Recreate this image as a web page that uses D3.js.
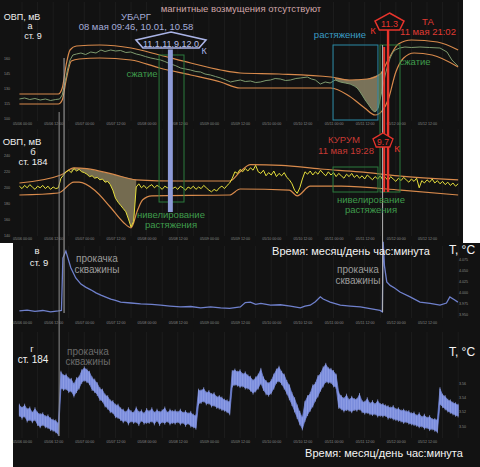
<!DOCTYPE html>
<html>
<head>
<meta charset="utf-8">
<script src="https://cdn.jsdelivr.net/npm/d3@7"></script>
<style>
body { margin: 0; background: #fff; }
svg { display: block; font-family: "Liberation Sans", Arial, sans-serif; }
</style>
</head>
<body>
<div id="chart"></div>
<script>
// time is in hours since 05/06 00:00
const tickHours = [0, 12, 24, 36, 48, 60, 72, 84, 96, 108, 120, 132, 144, 156];

// panel a: ОВП ст. 9 (green) with envelopes
const hoursGreenA = [-1, 1, 3, 5, 7, 9, 11, 13, 14.5, 15.5, 16.5, 17.5, 18.5, 19.6, 21, 22.7, 24.5, 26.5, 28.5, 30.4, 32, 34.2, 36, 38, 40, 41.9, 44, 45.7, 47.5, 49.6, 51.5, 53.4, 55, 57.2, 59, 61.1, 63, 64.9, 67, 68.8, 70.5, 72.6, 74.5, 76.5, 78.5, 80.3, 82, 84.1, 86, 88, 90, 91.8, 94, 95.7, 97.5, 99.5, 101.5, 103.4, 105.5, 107.2, 109.9, 111.5, 113, 114.9, 116.8, 118.7, 120.6, 122.6, 124.5, 126.4, 128, 129.1, 130, 131, 132.2, 133.3, 134.1, 134.9, 136, 137.2, 138.3, 139.1, 139.9, 140.8, 141.8, 142.7, 143.7, 145.5, 147.5, 150, 153.3, 157, 161, 163.7, 165.6, 167.9];
const greenA = [119, 120, 118.5, 119.5, 118, 119, 117.5, 118.5, 119, 123, 135, 148, 158, 163, 164, 165, 163.5, 166, 165, 168, 166.5, 168, 167, 167.5, 165.5, 166, 164, 163, 161.5, 160, 159, 158, 156.5, 154, 152.5, 150, 149, 148, 146.5, 146, 144, 143, 141.5, 140, 138, 136, 137, 138, 136.5, 137, 135.5, 136, 137.5, 138, 139.5, 139, 137.5, 138, 139.5, 140, 141, 139, 138, 134, 136, 135, 138, 136, 135, 134, 132, 130, 127, 123, 118, 114, 111, 108, 106, 110, 123, 133, 143, 152, 160, 165, 168, 170, 171, 170.5, 171, 170.5, 170, 166, 158, 152];
const hoursUpA = [-1, 14, 15.5, 17, 18.5, 21, 30, 42, 53, 65, 76.5, 84, 99, 119, 126, 133, 138, 141, 145, 150, 160, 168];
const upA = [124, 124, 130, 153, 168, 172, 173, 170, 163, 155, 148, 145, 144, 141, 138, 139, 144, 158, 174, 178, 176, 168];
const hoursLoA = [-1, 14, 15.5, 17, 19, 22, 30, 42, 53, 65, 76.5, 84, 119, 126, 132, 136, 139, 141, 144, 147, 151, 158, 168];
const loA = [114, 114, 118, 138, 157, 159, 160, 158, 150, 143, 136, 130, 130, 122, 110, 103, 108, 118, 146, 160, 165, 163, 151];
const ticksA = [100, 115, 130, 145, 160];

// panel b: ОВП ст. 184 (yellow), hourly from -1 to 168
const yellowB = [201,198,202,199,203,200,197,201,199,202, 198,201,197,200,198,199,211,215,219,221,
  218,223,220,222,219,218,216,213,214,211, 212,209,210,206,207,203,196,186,181,177,
  173,169,160,150,157,200,204,199,202,198, 201,203,199,202,200,197,201,199,202,198,
  200,197,201,199,196,200,198,201,197,200, 198,202,199,196,194,197,195,199,201,198,
  202,205,211,219,217,222,219,223,220,224, 221,227,219,217,221,214,218,215,220,213,
  217,214,218,212,209,204,196,192,199,210, 219,216,220,215,219,216,221,217,214,219,
  215,218,213,217,214,211,216,213,217,212, 215,211,214,210,215,212,209,213,210,214,
  209,212,208,213,210,207,211,208,212,209, 206,210,207,211,199,208,205,209,206,210,
  205,208,204,207,203,206,202,205,201,204];
const hoursUpB = [-1, 15, 20, 25, 35, 44, 60, 80, 84, 88, 100, 115, 130, 145, 168];
const upB = [205, 215, 224, 223, 216, 209, 207.5, 207.5, 219, 228, 227, 222.5, 219, 214, 209];
const hoursLoB = [-1, 14, 20, 22, 28, 34, 39, 42, 44.5, 46.5, 50, 80, 84, 103, 106, 111, 123, 146, 168];
const loB = [190, 192.5, 206, 206, 196, 175, 156, 149, 171, 184, 189, 190, 197.5, 196, 189, 201, 201, 196, 190];
const ticksB = [140, 160, 180, 200, 220, 240];

// panel в: T ст. 9
const hoursV = [-1, 2, 5, 8, 11, 14, 15.2, 15.75, 16.9, 17.7, 18.8, 20.7, 22.7, 24.5, 26.5, 28.5, 30.4, 32.5, 34.2, 36, 38, 42, 45.7, 50, 53.4, 57, 61.1, 65, 68.8, 72.6, 76.5, 80, 84.1, 86, 88, 90, 92, 95.7, 99.5, 103.4, 107.2, 109, 111, 113, 114.9, 116, 118.7, 122.6, 126.4, 130.3, 134.1, 137.9, 138.8, 139.1, 139.6, 140.5, 141.8, 143.5, 145.6, 149.5, 153.3, 157.2, 161, 163.5, 164.8, 166.7, 167.9];
const tempV = [3.957, 3.959, 3.956, 3.958, 3.955, 3.957, 3.958, 4.077, 4.093, 4.077, 4.055, 4.032, 4.018, 4.011, 4.005, 3.998, 3.993, 3.988, 3.984, 3.981, 3.977, 3.975, 3.973, 3.972, 3.970, 3.968, 3.966, 3.967, 3.964, 3.966, 3.964, 3.963, 3.966, 3.976, 3.977, 3.972, 3.974, 3.970, 3.971, 3.968, 3.964, 3.968, 3.970, 3.978, 3.989, 3.984, 3.977, 3.970, 3.968, 3.966, 3.962, 3.958, 3.955, 4.114, 4.060, 4.023, 4.015, 4.009, 4.000, 3.989, 3.977, 3.974, 3.970, 3.975, 3.989, 3.982, 3.977];
const ticksV = [3.950, 3.975, 4.000, 4.025, 4.050, 4.075];

// panel г: T ст. 184, hourly max / min from -1 to 168
const tempGHi = [3.529,3.525,3.529,3.523,3.525,3.518,3.524,3.518,3.516,3.517,
  3.513,3.514,3.510,3.508,3.507,3.503,3.575,3.570,3.571,3.566,
  3.565,3.558,3.566,3.568,3.577,3.581,3.578,3.575,3.567,3.564,
  3.559,3.552,3.550,3.543,3.541,3.535,3.534,3.529,3.529,3.524,
  3.522,3.519,3.524,3.520,3.518,3.525,3.519,3.521,3.517,3.523,
  3.520,3.524,3.518,3.522,3.519,3.521,3.525,3.518,3.522,3.520,
  3.521,3.519,3.522,3.518,3.520,3.517,3.519,3.515,3.514,3.550,
  3.549,3.552,3.546,3.548,3.544,3.545,3.540,3.541,3.539,3.536,
  3.535,3.533,3.576,3.578,3.575,3.577,3.572,3.574,3.570,3.568,
  3.563,3.567,3.571,3.579,3.567,3.562,3.559,3.563,3.571,3.578,
  3.582,3.575,3.571,3.562,3.556,3.545,3.538,3.528,3.519,3.511,
  3.533,3.541,3.545,3.556,3.559,3.569,3.573,3.581,3.586,3.580,
  3.579,3.576,3.571,3.546,3.541,3.538,3.543,3.536,3.540,3.537,
  3.537,3.544,3.534,3.533,3.538,3.531,3.534,3.530,3.535,3.530,
  3.530,3.528,3.527,3.525,3.527,3.523,3.524,3.521,3.522,3.520,
  3.520,3.517,3.518,3.514,3.517,3.512,3.515,3.511,3.513,3.509,
  3.509,3.508,3.552,3.543,3.541,3.536,3.535,3.532,3.531,3.529];
const tempGLo = [3.515,3.511,3.514,3.507,3.509,3.506,3.509,3.502,3.499,3.502,
  3.499,3.498,3.495,3.494,3.492,3.488,3.553,3.551,3.552,3.548,
  3.549,3.542,3.548,3.553,3.561,3.564,3.562,3.559,3.551,3.548,
  3.544,3.537,3.535,3.528,3.525,3.520,3.519,3.513,3.512,3.509,
  3.506,3.508,3.503,3.507,3.505,3.506,3.502,3.508,3.504,3.505,
  3.505,3.507,3.503,3.508,3.502,3.506,3.504,3.507,3.503,3.505,
  3.504,3.506,3.503,3.505,3.501,3.504,3.500,3.499,3.497,3.531,
  3.533,3.535,3.531,3.532,3.528,3.529,3.526,3.525,3.523,3.522,
  3.520,3.517,3.556,3.558,3.557,3.555,3.556,3.553,3.553,3.550,
  3.546,3.549,3.553,3.560,3.551,3.545,3.543,3.546,3.553,3.561,
  3.563,3.559,3.553,3.546,3.538,3.530,3.521,3.512,3.503,3.496,
  3.508,3.516,3.522,3.528,3.536,3.542,3.550,3.556,3.562,3.561,
  3.561,3.556,3.554,3.526,3.524,3.521,3.523,3.522,3.520,3.523,
  3.522,3.524,3.520,3.518,3.519,3.517,3.516,3.517,3.514,3.515,
  3.514,3.515,3.511,3.512,3.510,3.509,3.508,3.507,3.505,3.506,
  3.504,3.503,3.502,3.501,3.499,3.500,3.497,3.498,3.495,3.496,
  3.494,3.492,3.531,3.527,3.524,3.521,3.519,3.517,3.515,3.514];
const ticksG = [3.50, 3.52, 3.54, 3.56];

const hourly = d3.range(-1, 169);

const W = 480, H = 467;
const t0 = new Date(2020, 4, 6, 0, 0);
const hr = h => new Date(+t0 + h * 36e5);

const x = d3.scaleTime().domain([t0, hr(156)]).range([22, 427]);
const ya = d3.scaleLinear().domain([100, 160]).range([118, 58]);
const yb = d3.scaleLinear().domain([140, 240]).range([235, 155]);
const yv = d3.scaleLinear().domain([3.95, 4.075]).range([314, 259]);
const yg = d3.scaleLinear().domain([3.50, 3.56]).range([426, 383]);

const svg = d3.select('#chart').append('svg')
    .attr('width', W)
    .attr('height', H);

// dark panels
svg.append('rect').attr('x', 0).attr('y', 0).attr('width', 463).attr('height', 243).attr('fill', '#121212');
svg.append('rect').attr('x', 13).attr('y', 243).attr('width', 467).attr('height', 224).attr('fill', '#121212');

// faint vertical grid
const gridHours = d3.range(0, 169, 6);
[[2, 121], [129, 236], [246, 318], [332, 438]].forEach(([y0, y1]) => {
    svg.append('g').selectAll('line')
        .data(gridHours)
        .join('line')
            .attr('x1', d => x(hr(d))).attr('x2', d => x(hr(d)))
            .attr('y1', y0).attr('y2', y1)
            .attr('stroke', '#1f1f1f')
            .attr('stroke-width', 0.8);
});

// bottom time axes
const fmt = d3.timeFormat('%m/%d %H:%M');
[122.5, 237.5, 321.5, 440.5].forEach(yy => {
    const ax = svg.append('g')
        .attr('transform', `translate(0,${yy})`)
        .call(d3.axisBottom(x).tickValues(tickHours.map(hr)).tickFormat(fmt).tickSize(0).tickPadding(0));
    ax.select('.domain').remove();
    ax.selectAll('text').attr('font-size', 3.6).attr('fill', '#8a8a8a').attr('font-family', 'Liberation Sans, Arial');
});

// value axes
function valueAxis(axis, tx, vals, f) {
    const g = svg.append('g').attr('transform', `translate(${tx},0)`)
        .call(axis.tickValues(vals).tickFormat(f).tickSize(0).tickPadding(0));
    g.select('.domain').remove();
    g.selectAll('text').attr('font-size', 3.6).attr('fill', '#8a8a8a').attr('font-family', 'Liberation Sans, Arial');
}
valueAxis(d3.axisLeft(ya), 10, ticksA, d3.format('d'));
valueAxis(d3.axisLeft(yb), 10, ticksB, d3.format('d'));
valueAxis(d3.axisRight(yv), 459, ticksV, d3.format('.3f'));
valueAxis(d3.axisRight(yg), 459, ticksG, d3.format('.2f'));

function pairs(hs, vs) { return hs.map((h, i) => [h, vs[i]]); }
function lineOf(ys, curve) {
    return d3.line().x(d => x(hr(d[0]))).y(d => ys(d[1])).curve(curve || d3.curveLinear);
}

// --- panel a
const upAt = d3.scaleLinear().domain(hoursUpA).range(upA);
const gA = pairs(hoursGreenA, greenA);
svg.append('path')
    .datum(gA.filter(d => d[0] >= 119.5 && d[0] <= 139.6))
    .attr('fill', '#8c8466')
    .attr('fill-opacity', 0.85)
    .attr('d', d3.area().x(d => x(hr(d[0]))).y0(d => ya(d[1])).y1(d => ya(upAt(d[0]))).curve(d3.curveMonotoneX));
svg.append('path').datum(pairs(hoursUpA, upA))
    .attr('fill', 'none').attr('stroke', '#d88a4c').attr('stroke-width', 1.2)
    .attr('d', lineOf(ya, d3.curveMonotoneX));
svg.append('path').datum(pairs(hoursLoA, loA))
    .attr('fill', 'none').attr('stroke', '#d88a4c').attr('stroke-width', 1.2)
    .attr('d', lineOf(ya, d3.curveMonotoneX));
svg.append('path').datum(gA)
    .attr('fill', 'none').attr('stroke', '#7e9a6e').attr('stroke-width', 1)
    .attr('d', lineOf(ya));

// --- panel b
const upBAt = d3.scaleLinear().domain(hoursUpB).range(upB);
const yB = pairs(hourly, yellowB);
svg.append('path')
    .datum(yB.filter(d => d[0] >= 19 && d[0] <= 44))
    .attr('fill', '#867b5c')
    .attr('fill-opacity', 0.85)
    .attr('d', d3.area().x(d => x(hr(d[0]))).y0(d => yb(d[1])).y1(d => yb(upBAt(d[0]))));
svg.append('path').datum(pairs(hoursUpB, upB))
    .attr('fill', 'none').attr('stroke', '#d88a4c').attr('stroke-width', 1.2)
    .attr('d', lineOf(yb, d3.curveMonotoneX));
svg.append('path').datum(pairs(hoursLoB, loB))
    .attr('fill', 'none').attr('stroke', '#d88a4c').attr('stroke-width', 1.2)
    .attr('d', lineOf(yb, d3.curveMonotoneX));
svg.append('path').datum(yB)
    .attr('fill', 'none').attr('stroke', '#e6df3c').attr('stroke-width', 1)
    .attr('d', lineOf(yb));

// --- panel в
svg.append('path').datum(pairs(hoursV, tempV))
    .attr('fill', 'none').attr('stroke', '#6f80cc').attr('stroke-width', 1.3)
    .attr('d', lineOf(yv));

// --- panel г: noisy band drawn from hourly max / min
const gBand = hourly.map((h, i) => [h, tempGLo[i], tempGHi[i]]);
svg.append('path').datum(gBand)
    .attr('fill', '#7a8cdc')
    .attr('stroke', '#6d80d2')
    .attr('stroke-width', 0.8)
    .attr('d', d3.area().x(d => x(hr(d[0]))).y0(d => yg(d[1])).y1(d => yg(d[2])));
svg.append('g').selectAll('line')
    .data(gBand)
    .join('line')
        .attr('x1', d => x(hr(d[0]))).attr('x2', d => x(hr(d[0])))
        .attr('y1', d => yg(d[1]) + 1.5).attr('y2', d => yg(d[2]) - 1.5)
        .attr('stroke', '#9aa8ea')
        .attr('stroke-width', 0.7);

// --- annotations
const ann = svg.append('g');
function vline(h, y1, y2, color, w) {
    ann.append('line')
        .attr('x1', x(hr(h))).attr('x2', x(hr(h)))
        .attr('y1', y1).attr('y2', y2)
        .attr('stroke', color).attr('stroke-width', w);
}
function box(h1, h2, y1, y2, color) {
    ann.append('rect')
        .attr('x', x(hr(h1))).attr('y', y1)
        .attr('width', x(hr(h2)) - x(hr(h1))).attr('height', y2 - y1)
        .attr('fill', 'none').attr('stroke', color).attr('stroke-width', 1);
}
function label(txt, cx, cy, color, size, anchor) {
    ann.append('text')
        .attr('x', cx).attr('y', cy)
        .attr('text-anchor', anchor || 'middle')
        .attr('fill', color)
        .attr('font-size', size)
        .text(txt);
}
function pent(cx, top, w, h, corner, inset, color, sw) {
    const pts = [[cx, top], [cx + w / 2, top + h * corner], [cx + w / 2 - w * inset / 2, top + h],
                 [cx - w / 2 + w * inset / 2, top + h], [cx - w / 2, top + h * corner]];
    ann.append('polygon')
        .attr('points', pts.map(p => p.join(',')).join(' '))
        .attr('fill', '#121212').attr('stroke', color).attr('stroke-width', sw);
}

// compression / stretching boxes
box(52.8, 62.4, 55, 202, '#2b7a3c');
box(119.8, 137.1, 45, 120, '#2a8aa6');
box(119.8, 137.1, 167, 192, '#2b7a3c');
box(137.9, 145.6, 45, 192, '#2b7a3c');

// time markers
vline(16.2, 58, 313, '#a9a9a9', 1);
vline(14.3, 112, 436, '#8c8c8c', 1);
vline(138.9, 45, 312, '#b5b5b5', 1);
vline(139.5, 47, 192, '#e8342c', 2);
vline(141.0, 30, 192, '#e8342c', 2.4);

// УБАРГ band
ann.append('rect')
    .attr('x', x(hr(56.2))).attr('y', 49.5)
    .attr('width', x(hr(58.1)) - x(hr(56.2))).attr('height', 162.5)
    .attr('fill', '#8e9bd8');
pent(171, 32, 70, 16, 0.5, 0.2, '#aab4e6', 1.6);
label('11.1,11.9,12.0', 171, 46.5, '#b8c0ea', 9);
label('К', 204, 54, '#aab4e6', 9);
label('УБАРГ', 136, 20, '#a4acd8', 9.5);
label('08 мая 09:46, 10.01, 10.58', 136, 30, '#a4acd8', 9.5);

// ТА / КУРУМ
pent(389.5, 13, 29, 17, 0.47, 0.3, '#e8342c', 1.5);
label('11.3', 389.5, 27, '#e8342c', 9);
label('К', 373, 34, '#e8342c', 9.5);
label('ТА', 428, 25, '#e03a32', 9.5);
label('11 мая 21:02', 428, 35, '#e03a32', 9.5);
pent(383, 133, 20, 14, 0.42, 0.32, '#e8342c', 1.3);
label('9.7', 383, 145, '#e8342c', 8.5);
label('К', 397, 152, '#e8342c', 9.5);
label('КУРУМ', 344, 143, '#c83a34', 9.5);
label('11 мая 19:28', 346, 154, '#c83a34', 9.5);

// words
label('магнитные возмущения отсутствуют', 241, 12, '#d0a6a8', 9.5);
label('сжатие', 142, 77, '#3f9c4c', 9.5);
label('растяжение', 340, 38, '#3a9cc4', 9.5);
label('сжатие', 415, 65, '#3f9c4c', 9.5);
label('нивелирование', 171, 218, '#3f9c4c', 9.5);
label('растяжения', 171, 228, '#3f9c4c', 9.5);
label('нивелирование', 371, 203, '#3f9c4c', 9.5);
label('растяжения', 371, 213, '#3f9c4c', 9.5);

// panel titles
label('ОВП, мВ', 22, 19.5, '#f0f0f0', 9);
label('а', 30, 29, '#f0f0f0', 9);
label('ст. 9', 33, 38.5, '#f0f0f0', 9);
label('ОВП, мВ', 22, 145, '#f0f0f0', 9.5);
label('б', 33, 155, '#f0f0f0', 9.5);
label('ст. 184', 33, 165, '#f0f0f0', 9.5);
label('в', 37, 254, '#f0f0f0', 9.5);
label('ст. 9', 39, 266, '#f0f0f0', 9.5);
label('г', 32, 352, '#f0f0f0', 9.5);
label('ст. 184', 33, 363, '#f0f0f0', 10);

label('прокачка', 97, 262, '#9a9a9a', 10);
label('скважины', 97, 273, '#9a9a9a', 10);
label('прокачка', 358, 273, '#9a9a9a', 10);
label('скважины', 358, 284, '#9a9a9a', 10);
label('прокачка', 88, 355, '#6a6a6a', 10);
label('скважины', 88, 365, '#6a6a6a', 10);

label('Время: месяц/день час:минута', 351, 255, '#f4f4f4', 11);
label('Т, °С', 462, 254, '#f4f4f4', 12);
label('Время: месяц/день час:минута', 384, 457, '#f4f4f4', 11);
label('Т, °С', 462, 356, '#f4f4f4', 12);
</script>
</body>
</html>
